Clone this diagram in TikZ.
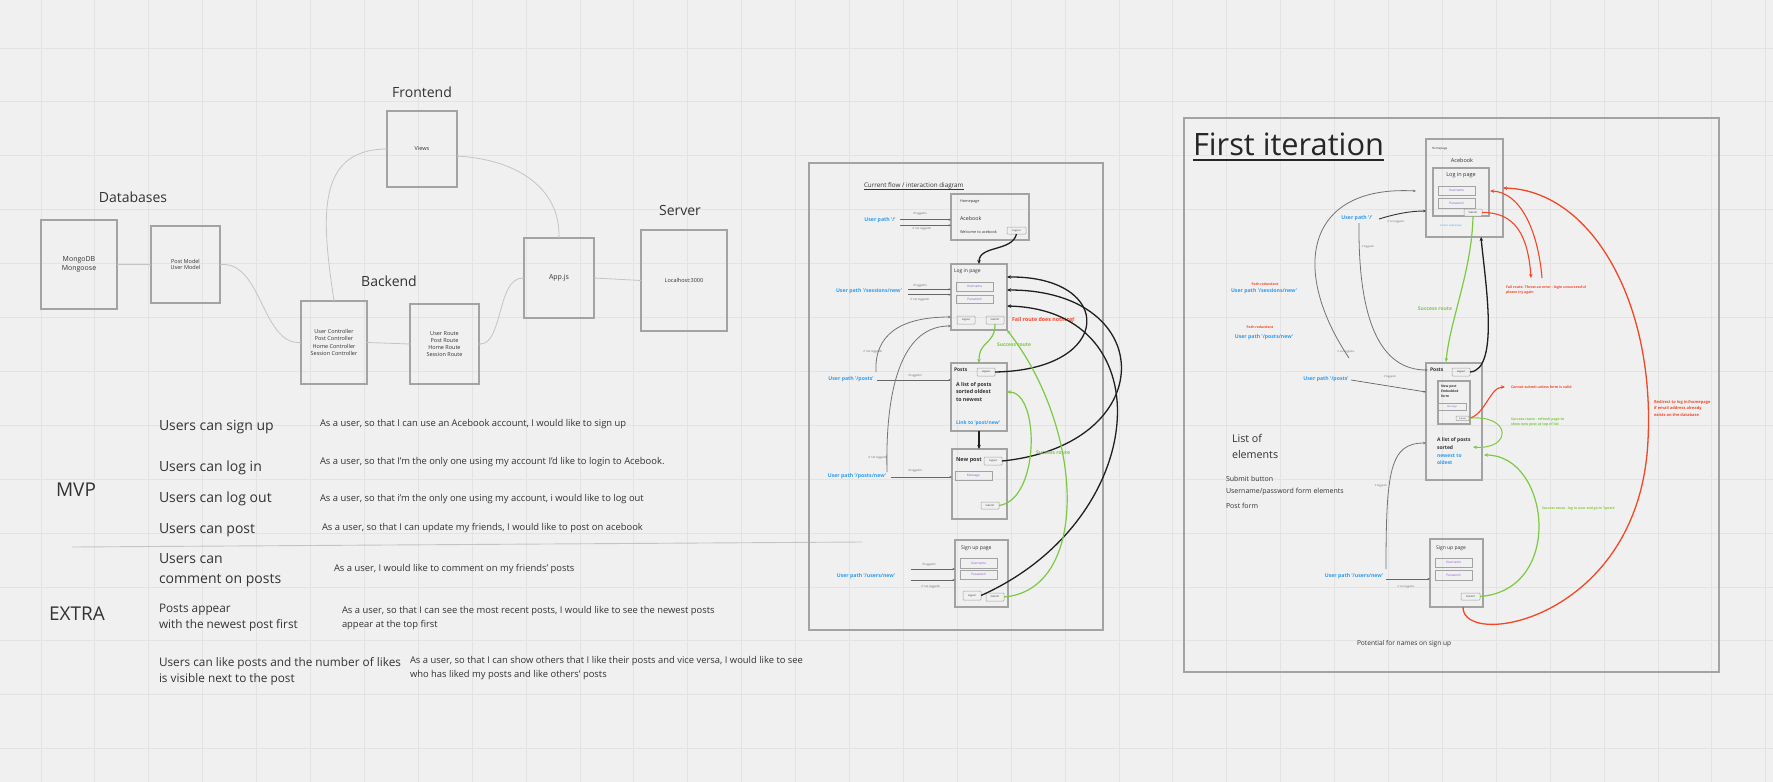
\documentclass[tikz,border=0pt]{standalone}
\usepackage{fontspec}
\setmainfont{Open Sans}
\usetikzlibrary{arrows.meta,calc}
\definecolor{bgc}{HTML}{F0F0F0}
\definecolor{gridc}{HTML}{E3E3E3}
\definecolor{boxc}{HTML}{A3A3A3}
\definecolor{txt}{HTML}{333333}
\definecolor{connc}{HTML}{C4C4C4}
\definecolor{blu}{HTML}{2D9BF0}
\definecolor{grn}{HTML}{7CC942}
\definecolor{rd}{HTML}{F24726}
\definecolor{purp}{HTML}{8E5BD6}
\definecolor{lbl}{HTML}{666666}
\newcommand{\myfs}[2]{\fontsize{#1}{#2}\selectfont}
\begin{document}
\begin{tikzpicture}[x=1pt,y=-1pt,
  every node/.style={inner sep=0pt,outer sep=0pt,text=txt},
  box/.style={draw=boxc,line width=1.2pt,anchor=north west,align=center},
  bigframe/.style={draw=boxc,line width=1.3pt,anchor=north west},
  btn/.style={draw=boxc,line width=0.5pt,rounded corners=0.8pt,anchor=north west,font=\myfs{2.6}{3}},
  field/.style={draw=boxc,line width=0.9pt,anchor=north west,font=\myfs{3.2}{4},text=purp},
  ttl/.style={font=\myfs{14}{16}},
  story/.style={font=\myfs{14}{16},anchor=west,align=left},
  desc/.style={font=\myfs{9.4}{14},anchor=west,align=left},
  upath/.style={font=\bfseries\myfs{5.2}{6},text=blu},
  lab/.style={font=\myfs{2.8}{3.5},text=lbl},
  conn/.style={draw=connc,line width=0.8pt,{Circle[length=1.6pt,fill=black!70]}-{Circle[length=1.6pt,fill=black!70]}},
  tarr/.style={draw=lbl,line width=0.6pt,-{Stealth[length=2.5pt,width=2pt]}},
  blk/.style={draw=black!88,line width=1.3pt,-{Stealth[length=4pt,width=3.5pt]}},
  gcurve/.style={draw=black!55,line width=0.8pt,-{Stealth[length=3pt,width=2.5pt]}},
  garr/.style={draw=grn,line width=1.2pt,-{Stealth[length=4pt,width=3.5pt]}},
  rarr/.style={draw=rd,line width=1.1pt,-{Stealth[length=4pt,width=3.5pt]}},
  small/.style={anchor=west,font=\myfs{3.8}{4.5}},
  note/.style={font=\bfseries\myfs{3.5}{5.2},anchor=north west,align=left}
]
\useasboundingbox (0,0) rectangle (1773,782);
\fill[bgc] (0,0) rectangle (1773,782);
\foreach \i in {0,...,33} {\draw[gridc,line width=0.7pt] ({-13+53.9*\i},0) -- ++(0,782);}
\foreach \j in {0,...,15} {\draw[gridc,line width=0.7pt] (0,{-6+53.9*\j}) -- ++(1773,0);}

% ---------------- architecture ----------------
\node[ttl] (tDb) at (133,197) {Databases};
\node[ttl] (tFe) at (422,92) {Frontend};
\node[ttl] (tBe) at (389,281) {Backend};
\node[ttl] (tSv) at (680,210) {Server};
\node[box,minimum width=76pt,minimum height=89pt,font=\myfs{7}{9}] (mongo) at (41,220) {MongoDB\\Mongoose};
\node[box,minimum width=69pt,minimum height=77pt,font=\myfs{5.5}{6.8}] (models) at (151,226) {Post Model\\User Model};
\node[box,minimum width=66pt,minimum height=83pt,font=\myfs{5.5}{7.2}] (ctrl) at (301,301) {User Controller\\Post Controller\\Home Controller\\Session Controller};
\node[box,minimum width=69pt,minimum height=80pt,font=\myfs{5.5}{7.2}] (routes) at (410,304) {User Route\\Post Route\\Home Route\\Session Route};
\node[box,minimum width=70pt,minimum height=76pt,font=\myfs{5.5}{7}] (views) at (387,111) {Views};
\node[box,minimum width=70pt,minimum height=80pt,font=\myfs{7}{8}] (app) at (524,238) {App.js};
\node[box,minimum width=86pt,minimum height=101pt,font=\myfs{5.5}{7}] (local) at (641,230) {Localhost:3000};
\draw[conn] (mongo.east) -- (models.west);
\draw[conn] (models.east) .. controls (262,262) and (262,344) .. (ctrl.west);
\draw[conn] (ctrl.east) -- (routes.west);
\draw[conn] (ctrl.north) .. controls (322,220) and (315,150) .. (views.west);
\draw[conn] ($(views.north east)+(0,45)$) .. controls (520,160) and (560,190) .. (app.north);
\draw[conn] (routes.east) .. controls (503,344) and (497,278) .. (app.west);
\draw[conn] (app.east) -- (local.west);

% ---------------- user stories ----------------
\node[font=\myfs{19}{22}] (mvp) at (76,490) {MVP};
\node[font=\myfs{19}{22}] (extra) at (77,614) {EXTRA};
\node[story] (s1) at (159,427) {Users can sign up};
\node[story] (s2) at (159,468) {Users can log in};
\node[story] (s3) at (159,499) {Users can log out};
\node[story] (s4) at (159,530) {Users can post};
\node[story,font=\myfs{14}{20}] (s5) at (159,570) {Users can\\comment on posts};
\node[story,font=\myfs{11.8}{16}] (s6) at (159,618) {Posts appear\\with the newest post first};
\node[story,font=\myfs{11.8}{16}] (s7) at (159,671) {Users can like posts and the number of likes\\is visible next to the post};
\node[desc] (d1) at (320,424) {As a user, so that I can use an Acebook account, I would like to sign up};
\node[desc] (d2) at (320,462) {As a user, so that I'm the only one using my account I'd like to login to Acebook.};
\node[desc] (d3) at (320,499) {As a user, so that i'm the only one using my account, i would like to log out};
\node[desc] (d4) at (322,528) {As a user, so that I can update my friends, I would like to post on acebook};
\node[desc] (d5) at (334,569) {As a user, I would like to comment on my friends' posts};
\node[desc] (d6) at (342,618) {As a user, so that I can see the most recent posts, I would like to see the newest posts\\appear at the top first};
\node[desc] (d7) at (410,668) {As a user, so that I can show others that I like their posts and vice versa, I would like to see\\who has liked my posts and like others' posts};
\coordinate (sepA) at (72,547);
\coordinate (sepB) at (862,542);
\draw[connc,line width=0.9pt] (sepA) -- (sepB);

% ---------------- current flow diagram ----------------
\node[bigframe,minimum width=294pt,minimum height=467pt] (frameM) at (809,163) {};
\node[anchor=west,font=\myfs{6.3}{7}] (cfT) at (864,186) {Current flow / interaction diagram};
\draw[txt,line width=0.5pt] ([yshift=-1.6pt]cfT.base west) -- ([yshift=-1.6pt]cfT.base east);

\node[box,minimum width=78pt,minimum height=46pt] (homeM) at (951,194) {};
\node[small] (homeMt) at (960,202) {Homepage};
\node[anchor=west,font=\myfs{5.3}{6}] (homeMa) at (960,219) {Acebook};
\node[small] (homeMw) at (960,232) {Welcome to acebook};
\node[btn,minimum width=19pt,minimum height=7pt] (lo1) at (1007,227) {Logout};

\node[upath] (up1) at (880,220) {User path '/'};
\coordinate (a1s) at (900,219.7);
\coordinate (a1t) at (900,225.3);
\draw[tarr] (a1s) -- (a1s -| homeM.west);
\draw[tarr] (a1t) -- (a1t -| homeM.west);
\node[lab] (l1) at (920,213.5) {if loggedin};
\node[lab] (l2) at (922,228.5) {if not loggedin};

\node[box,minimum width=56pt,minimum height=66pt] (loginM) at (951,264) {};
\node[anchor=west,font=\myfs{5}{6}] (loginMt) at (954,271) {Log in page};
\node[field,minimum width=37pt,minimum height=9pt] (unM) at (956,282) {Username};
\node[field,minimum width=37pt,minimum height=8pt] (pwM) at (956,295) {Password};
\node[btn,minimum width=18pt,minimum height=8pt] (lo2) at (957,316) {Logout};
\node[btn,minimum width=18pt,minimum height=8pt] (sb2) at (986,316) {Submit};
\draw[blk] (lo1.south) .. controls (1012,252) and (979,245) .. (loginM.north);

\node[upath] (up2) at (869,291) {User path '/sessions/new'};
\coordinate (a2s) at (908,289.3);
\coordinate (a2t) at (908,294.7);
\draw[tarr] (a2s) -- (a2s -| loginM.west);
\draw[tarr] (a2t) -- (a2t -| loginM.west);
\node[lab] (l3) at (920,286) {if loggedin};
\node[lab] (l4) at (920,300) {if not loggedin};

\node[anchor=west,font=\bfseries\myfs{5.3}{6},text=rd] (failM) at (1012,320) {Fail  route does nothing!};

\node[box,minimum width=56pt,minimum height=68pt] (postsM) at (951,363) {};
\node[anchor=west,font=\bfseries\myfs{5}{6}] (postsMt) at (954,370) {Posts};
\node[btn,minimum width=18pt,minimum height=8pt] (lo3) at (977,368) {Logout};
\node[anchor=north west,align=left,font=\bfseries\myfs{5.3}{7.5}] (postsMl) at (956,382) {A list of posts\\sorted oldest\\to newest};
\node[anchor=west,font=\bfseries\myfs{5}{6},text=blu] (postsMk) at (956,423) {Link to 'post/new'};
\draw[garr] (sb2.south) .. controls (995,345) and (979,340) .. (postsM.north);
\node[anchor=west,font=\bfseries\myfs{5}{6},text=grn] (succ1) at (997,345) {Success route};

\node[upath] (up3) at (851,379) {User path '/posts'};
\coordinate (a4s) at (877,380);
\draw[tarr] (a4s) -- (a4s -| postsM.west);
\node[lab] (l5) at (915,376) {if loggedin};

\node[box,minimum width=55pt,minimum height=70pt] (newM) at (952,449) {};
\node[anchor=west,font=\bfseries\myfs{5.5}{6.5}] (newMt) at (956,460) {New post};
\node[btn,minimum width=18pt,minimum height=8pt] (lo4) at (984,457) {Logout};
\node[field,minimum width=37pt,minimum height=9pt] (msgM) at (955,471) {Message};
\node[btn,minimum width=18pt,minimum height=7pt] (sb4) at (981,502) {Submit};
\draw[blk] (postsM.south) -- (postsM.south |- newM.north);

\node[upath] (up4) at (857,476) {User path '/posts/new'};
\coordinate (a5s) at (891,477);
\draw[tarr] (a5s) -- (a5s -| newM.west);
\node[lab] (l6) at (915,471) {if loggedin};

\coordinate (c1s) at (876,372);
\draw[gcurve] (c1s) .. controls (874,335) and (900,317) .. ($(loginM.north west)+(0,53)$);
\node[lab] (l7) at (873,352) {if not loggedin};
\coordinate (c2s) at (887,472);
\draw[gcurve] (c2s) .. controls (885,380) and (905,326) .. ($(loginM.north west)+(0,62)$);
\node[lab] (l8) at (878,458) {if not loggedin};

\node[box,minimum width=53pt,minimum height=67pt] (signM) at (955,540) {};
\node[anchor=west,font=\myfs{5.1}{6}] (signMt) at (961,548) {Sign up page};
\node[field,minimum width=37pt,minimum height=10pt] (unS) at (960,558) {Username};
\node[field,minimum width=37pt,minimum height=9pt] (pwS) at (960,570) {Password};
\node[btn,minimum width=18pt,minimum height=9pt] (lo5) at (963,591) {Logout};
\node[btn,minimum width=18pt,minimum height=8pt] (sb5) at (986,593) {Submit};

\node[upath] (up5) at (866,576) {User path '/users/new'};
\coordinate (a6s) at (911,569);
\coordinate (a6t) at (911,580);
\draw[tarr] (a6s) -- (a6s -| signM.west);
\draw[tarr] (a6t) -- (a6t -| signM.west);
\node[lab] (l9) at (929,565) {if loggedin};
\node[lab] (l10) at (931,587) {if not loggedin};

\draw[blk] (lo3.east) .. controls (1115,370) and (1115,276) .. ($(loginM.north east)+(0,13)$);
\draw[blk] (lo4.east) .. controls (1160,445) and (1160,290) .. ($(loginM.north east)+(0,26)$);
\draw[blk] (lo5.east) .. controls (1150,520) and (1165,310) .. ($(loginM.north east)+(0,42)$);
\draw[garr] (sb5.east) .. controls (1090,590) and (1085,430) .. (loginM.south east);
\draw[garr] (sb4.east) .. controls (1040,500) and (1040,392) .. ($(postsM.north east)+(0,29)$);
\node[anchor=west,font=\bfseries\myfs{5}{6},text=grn] (succ2) at (1036,453) {Success route};

% ---------------- first iteration ----------------
\node[bigframe,minimum width=535pt,minimum height=554pt] (frameR) at (1184,118) {};
\node[anchor=base west,font=\myfs{30.8}{34},text=black!85] (fiT) at (1193,155) {First iteration};
\draw[black!85,line width=1.6pt] ([yshift=-5pt]fiT.base west) -- ([yshift=-5pt]fiT.base east);

\node[box,minimum width=77pt,minimum height=98pt] (homeR) at (1426,139) {};
\node[anchor=west,font=\myfs{3}{4}] (homeRt) at (1432,149) {Homepage};
\node[font=\myfs{5.5}{6.5}] (homeRa) at (1462,160) {Acebook};
\node[box,minimum width=56pt,minimum height=48pt] (loginR) at (1433,168) {};
\node[font=\myfs{5.5}{6.5}] (loginRt) at (1461,175) {Log in page};
\node[field,minimum width=37pt,minimum height=9pt] (unR) at (1438,186) {Username};
\node[field,minimum width=37pt,minimum height=10pt] (pwR) at (1438,198) {Password};
\node[btn,minimum width=18pt,minimum height=7pt,fill=bgc] (sbR) at (1464,209) {Submit};
\node[font=\myfs{2.5}{3},text=blu] (linkR) at (1451,226) {Link to 'users/new'};

\node[upath] (upR1) at (1357,218) {User path '/'};
\coordinate (r1s) at (1379,219);
\draw[draw=black!80,line width=0.9pt,-{Stealth[length=3pt,width=2.5pt]}] (r1s) .. controls (1395,214) and (1410,211) .. ($(homeR.north west)+(0,72)$);
\node[lab,font=\myfs{2.5}{3}] (lR1) at (1396,222) {if not loggedin};

\node[font=\bfseries\myfs{3.4}{4},text=rd] (prR1) at (1265,284) {Path redundant};
\node[upath] (upR2) at (1264,291) {User path '/sessions/new'};
\node[font=\bfseries\myfs{3.4}{4},text=rd] (prR2) at (1260,327) {Path redundant};
\node[upath] (upR3) at (1264,337) {User path '/posts/new'};

\node[box,minimum width=56pt,minimum height=117pt] (postsR) at (1426,363) {};
\node[anchor=west,font=\bfseries\myfs{5}{6}] (postsRt) at (1430,370) {Posts};
\node[btn,minimum width=18pt,minimum height=8pt] (loR) at (1452,368) {Logout};
\node[box,minimum width=32pt,minimum height=43pt] (formR) at (1438,381) {};
\node[anchor=north west,align=left,font=\bfseries\myfs{3.3}{5.3}] (formRt) at (1441,385) {New post\\Embedded\\form};
\node[field,minimum width=28pt,minimum height=7pt,font=\myfs{2.4}{3}] (msgR) at (1438,403) {Message};
\node[btn,minimum width=13pt,minimum height=4.5pt,font=\myfs{2}{2.5}] (sbR2) at (1456,416) {Submit};
\node[anchor=north west,align=left,font=\bfseries\myfs{5}{7.6}] (postsRl) at (1437,438) {A list of posts\\sorted\\\textcolor{blu}{newest to}\\\textcolor{blu}{oldest}};

\draw[garr] (sbR.south) .. controls (1472,270) and (1450,320) .. ($(postsR.north west)+(20,-1)$);
\node[font=\bfseries\myfs{5}{6},text=grn] (succR1) at (1435,309) {Success route};
\draw[blk] (loR.east) .. controls (1500,370) and (1485,280) .. ($(homeR.south east)+(-22,0)$);

\coordinate (g1s) at (1359,223);
\draw[gcurve] (g1s) .. controls (1358,320) and (1380,370) .. ($(postsR.north west)+(2,7)$);
\node[lab,font=\myfs{2.5}{3}] (lR2) at (1368,247) {if loggedin};
\coordinate (g2s) at (1349,358);
\coordinate (g2t) at (1416,191);
\draw[gcurve] (g2s) .. controls (1290,270) and (1305,185) .. (g2t);
\node[lab,font=\myfs{2.5}{3}] (lR3) at (1346,352) {if not loggedin};

\node[upath] (upR4) at (1326,379) {User path '/posts'};
\coordinate (r4s) at (1351,380);
\draw[tarr,line width=0.7pt] (r4s) -- ($(postsR.north west)+(0,29)$);
\node[lab,font=\myfs{2.5}{3}] (lR4) at (1390,377) {if loggedin};

\draw[rarr] (sbR.east) .. controls (1515,212) and (1528,235) .. (1531,278);
\coordinate (rf2) at (1542,278);
\draw[rarr] (rf2) .. controls (1538,230) and (1520,192) .. ($(loginR.north east)+(1,23)$);
\node[note,font=\bfseries\myfs{3.5}{5.2},text=rd] (failR) at (1506,285.5) {Fail  route: Throw an error - login unsuccessful\\please try again};

\draw[rarr] (sbR2.east) .. controls (1485,415) and (1490,387) .. (1505,387);
\node[anchor=west,font=\bfseries\myfs{3.5}{4},text=rd] (cantR) at (1511,387) {Cannot submit unless form is valid};
\draw[garr,line width=1pt] (sbR2.east) .. controls (1512,414) and (1512,450) .. (1473,447);
\node[note,text=grn] (succR2) at (1511,418) {Success route - refresh page to\\show new post at top of list};

\node[box,minimum width=53pt,minimum height=68pt] (signR) at (1430,539) {};
\node[anchor=west,font=\myfs{5}{6}] (signRt) at (1436,548) {Sign up page};
\node[field,minimum width=37pt,minimum height=9pt] (unRS) at (1435,558) {Username};
\node[field,minimum width=37pt,minimum height=10pt] (pwRS) at (1435,570) {Password};
\node[btn,minimum width=19pt,minimum height=7pt] (sbRS) at (1461,593) {Submit};

\node[upath] (upR5) at (1354,576) {User path '/users/new'};
\coordinate (r5s) at (1386,579);
\draw[tarr,line width=0.8pt] (r5s) -- (r5s -| signR.west);
\node[lab,font=\myfs{2.5}{3}] (lR5) at (1406,587) {if not loggedin};
\coordinate (g3s) at (1386,569);
\draw[gcurve] (g3s) .. controls (1386,470) and (1390,443) .. ($(postsR.north west)+(0,80)$);
\node[lab,font=\myfs{2.5}{3}] (lR6) at (1381,486) {if loggedin};

\draw[garr] (sbRS.east) .. controls (1565,590) and (1550,455) .. ($(postsR.north east)+(2,92)$);
\node[anchor=west,font=\bfseries\myfs{3.4}{4},text=grn] (succR3) at (1542,509) {Success route - log in user and go to '/posts'};

\draw[rarr,line width=1.3pt] ($(signR.south)+(6.5,0)$) .. controls (1462,650) and (1640,620) .. (1648,440) .. controls (1655,300) and (1590,190) .. (homeR.east);
\node[note,font=\bfseries\myfs{4}{6.5},text=rd] (redirR) at (1654,400) {Redirect to log in/homepage\\if email address already\\exists on the database};

\node[anchor=north west,align=left,font=\myfs{10.7}{16}] (listR) at (1232,434) {List of\\elements};
\node[anchor=west,font=\myfs{7}{8}] (e1) at (1226,479) {Submit button};
\node[anchor=west,font=\myfs{7}{8}] (e2) at (1226,492) {Username/password form elements};
\node[anchor=west,font=\myfs{7}{8}] (e3) at (1226,506) {Post form};
\node[anchor=west,font=\myfs{6.6}{8}] (potR) at (1357,644) {Potential for names on sign up};
\end{tikzpicture}
\end{document}
